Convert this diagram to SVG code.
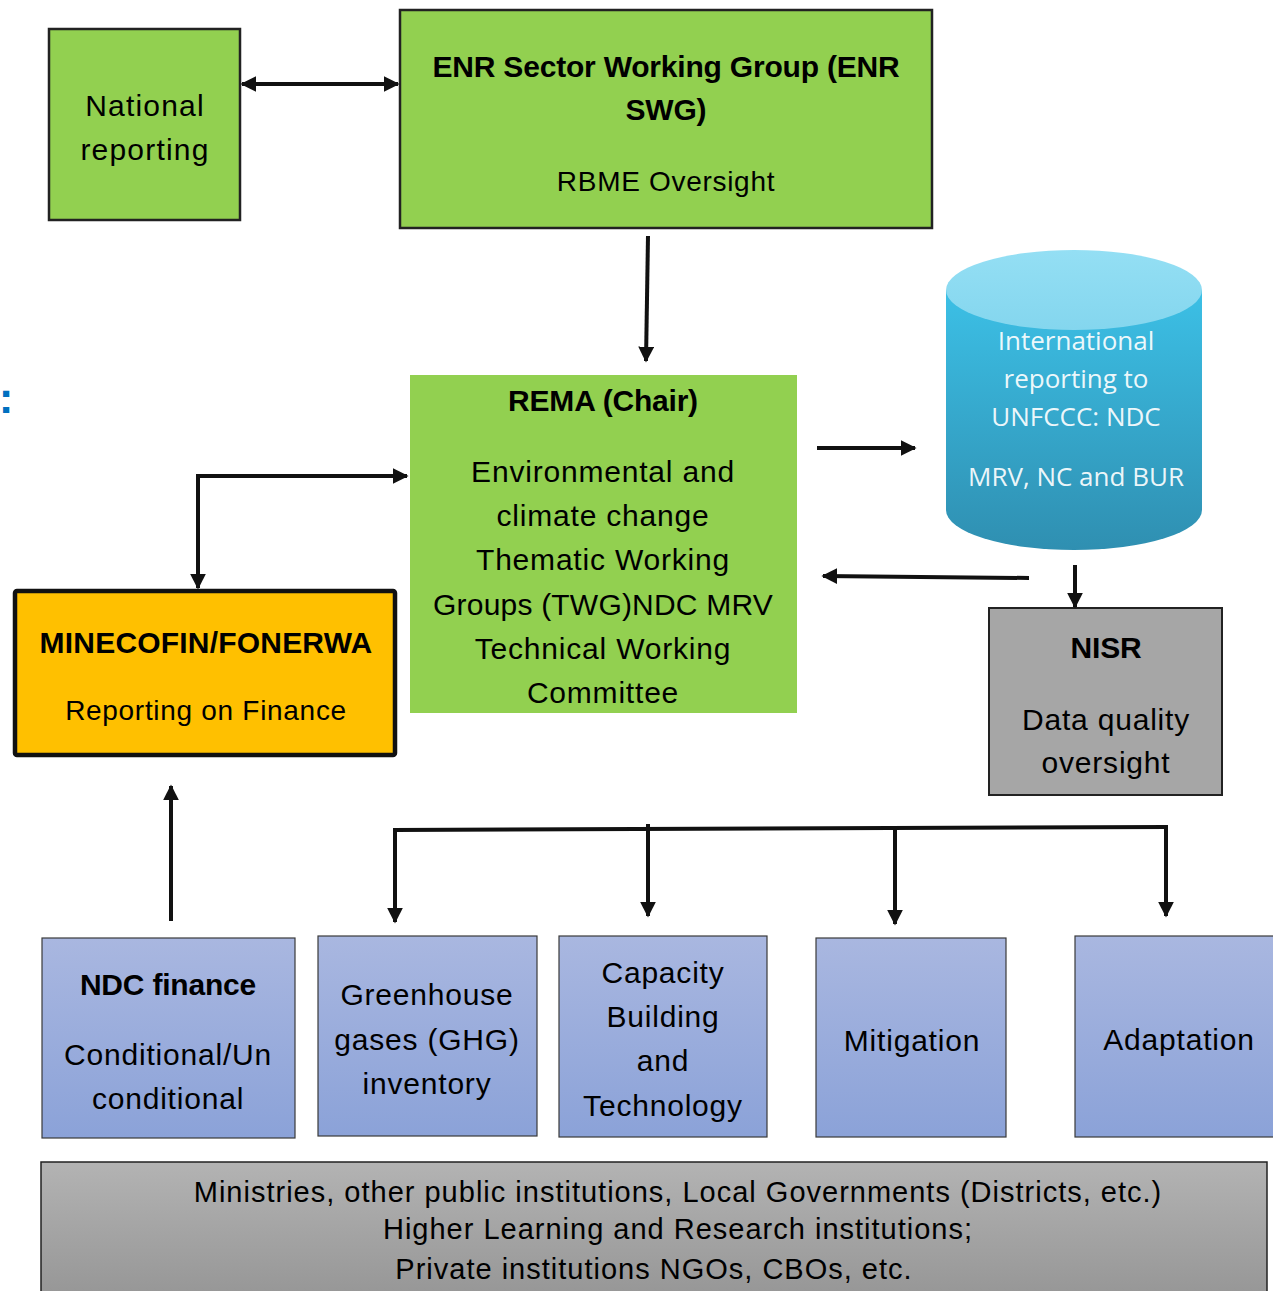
<svg xmlns="http://www.w3.org/2000/svg" width="1273" height="1291" viewBox="0 0 1273 1291">
<defs>
<style>
text{font-family:"Liberation Sans","Noto Sans",sans-serif;fill:#000;text-anchor:middle}
.r{font-size:30px;letter-spacing:0.8px}
.b{font-size:30px;font-weight:bold;letter-spacing:-0.2px}
.cyl{font-family:"Open Sans","Noto Sans",sans-serif;font-size:26px;fill:#fff;fill-opacity:0.92}
.btm{font-size:29px;letter-spacing:1px}
.green{fill:#92D050}
.blue{fill:url(#gBlue);stroke:#3a3a3a;stroke-width:1.2}
.con{stroke:#111;stroke-width:4;fill:none}
</style>
<linearGradient id="gBlue" x1="0" y1="0" x2="0" y2="1">
<stop offset="0" stop-color="#A9B7E0"/>
<stop offset="1" stop-color="#8BA2D8"/>
</linearGradient>
<linearGradient id="gGray" x1="0" y1="0" x2="0" y2="1">
<stop offset="0" stop-color="#B3B3B3"/>
<stop offset="1" stop-color="#959595"/>
</linearGradient>
<linearGradient id="gCyl" x1="0" y1="0" x2="0" y2="1">
<stop offset="0" stop-color="#3CC0E6"/>
<stop offset="1" stop-color="#2F8FB1"/>
</linearGradient>
<linearGradient id="gCylTop" x1="0" y1="0" x2="0" y2="1">
<stop offset="0" stop-color="#94DFF4"/>
<stop offset="1" stop-color="#84D6EE"/>
</linearGradient>
<marker id="ah" viewBox="0 0 10 10" refX="9" refY="5" markerWidth="4" markerHeight="4" orient="auto-start-reverse" markerUnits="strokeWidth">
<path d="M0,0 L10,5 L0,10 z" fill="#111"/>
</marker>
</defs>
<rect width="1273" height="1291" fill="#fff"/>

<text x="6" y="413" style="font-size:44px;font-weight:bold;fill:#0070C0">:</text>

<g id="national">
<rect x="49" y="29" width="191" height="191" class="green" stroke="#222" stroke-width="2.5"/>
<text x="145" y="116" style="font-size:30px;letter-spacing:1.2px">National</text>
<text x="145" y="160" style="font-size:30px;letter-spacing:1.2px">reporting</text>
</g>

<g id="enr">
<rect x="400" y="10" width="532" height="218" class="green" stroke="#222" stroke-width="2.5"/>
<text x="666" y="77" class="b">ENR Sector Working Group (ENR</text>
<text x="666" y="120" class="b">SWG)</text>
<text x="666" y="191" style="font-size:28px;letter-spacing:0.7px">RBME Oversight</text>
</g>

<g id="rema">
<rect x="410" y="375" width="387" height="338" class="green"/>
<text x="603" y="411" class="b">REMA (Chair)</text>
<text x="603" y="482" class="r">Environmental and</text>
<text x="603" y="526" class="r">climate change</text>
<text x="603" y="570" class="r">Thematic Working</text>
<text x="603" y="615" style="font-size:30px;letter-spacing:0.2px">Groups (TWG)NDC MRV</text>
<text x="603" y="659" class="r">Technical Working</text>
<text x="603" y="703" class="r">Committee</text>
</g>

<g id="international">
<path d="M946,290 L946,510 A128,40 0 0 0 1202,510 L1202,290 Z" fill="url(#gCyl)"/>
<ellipse cx="1074" cy="290" rx="128" ry="40" fill="url(#gCylTop)"/>
<text x="1076" y="350" class="cyl">International</text>
<text x="1076" y="388" class="cyl">reporting to</text>
<text x="1076" y="426" class="cyl">UNFCCC: NDC</text>
<text x="1076" y="486" class="cyl">MRV, NC and BUR</text>
</g>

<g id="minecofin">
<rect x="15" y="591" width="380" height="164" rx="2" fill="#FFC000" stroke="#111" stroke-width="4.5"/>
<text x="206" y="653" style="font-size:30px;font-weight:bold;letter-spacing:0.2px">MINECOFIN/FONERWA</text>
<text x="206" y="720" style="font-size:28px;letter-spacing:0.7px">Reporting on Finance</text>
</g>

<g id="nisr">
<rect x="989" y="608" width="233" height="187" fill="#A6A6A6" stroke="#222" stroke-width="2"/>
<text x="1106" y="658" class="b">NISR</text>
<text x="1106" y="730" class="r">Data quality</text>
<text x="1106" y="773" class="r">oversight</text>
</g>

<g id="ndcfinance">
<rect x="42" y="938" width="253" height="200" class="blue"/>
<text x="168" y="995" class="b">NDC finance</text>
<text x="168" y="1065" class="r">Conditional/Un</text>
<text x="168" y="1109" class="r">conditional</text>
</g>

<g id="ghg">
<rect x="318" y="936" width="219" height="200" class="blue"/>
<text x="427" y="1005" class="r">Greenhouse</text>
<text x="427" y="1050" class="r">gases (GHG)</text>
<text x="427" y="1094" class="r">inventory</text>
</g>

<g id="capacity">
<rect x="559" y="936" width="208" height="201" class="blue"/>
<text x="663" y="983" class="r">Capacity</text>
<text x="663" y="1027" class="r">Building</text>
<text x="663" y="1071" class="r">and</text>
<text x="663" y="1116" class="r">Technology</text>
</g>

<g id="mitigation">
<rect x="816" y="938" width="190" height="199" class="blue"/>
<text x="912" y="1051" class="r">Mitigation</text>
</g>

<g id="adaptation">
<rect x="1075" y="936" width="205" height="201" class="blue"/>
<text x="1179" y="1050" class="r">Adaptation</text>
</g>

<g id="institutions">
<rect x="41" y="1162" width="1226" height="140" fill="url(#gGray)" stroke="#222" stroke-width="1.5"/>
<text x="678" y="1202" class="btm">Ministries, other public institutions, Local Governments (Districts, etc.)</text>
<text x="678" y="1239" class="btm">Higher Learning and Research institutions;</text>
<text x="654" y="1279" class="btm">Private institutions NGOs, CBOs, etc.</text>
</g>

<g id="connectors">
<line x1="242" y1="84" x2="398" y2="84" class="con" marker-start="url(#ah)" marker-end="url(#ah)"/>
<line x1="648" y1="236" x2="646" y2="361" class="con" marker-end="url(#ah)"/>
<line x1="817" y1="448" x2="915" y2="448" class="con" marker-end="url(#ah)"/>
<line x1="1029" y1="578" x2="823" y2="576" class="con" marker-end="url(#ah)"/>
<line x1="1075" y1="565" x2="1075" y2="607" class="con" marker-end="url(#ah)"/>
<polyline points="198,588 198,476 407,476" class="con" marker-start="url(#ah)" marker-end="url(#ah)"/>
<line x1="171" y1="921" x2="171" y2="786" class="con" marker-end="url(#ah)"/>
<polyline points="395,922 395,830 1167,827" class="con" marker-start="url(#ah)"/>
<line x1="1166" y1="825" x2="1166" y2="916" class="con" marker-end="url(#ah)"/>
<line x1="648" y1="824" x2="648" y2="916" class="con" marker-end="url(#ah)"/>
<line x1="895" y1="829" x2="895" y2="924" class="con" marker-end="url(#ah)"/>
</g>
</svg>
